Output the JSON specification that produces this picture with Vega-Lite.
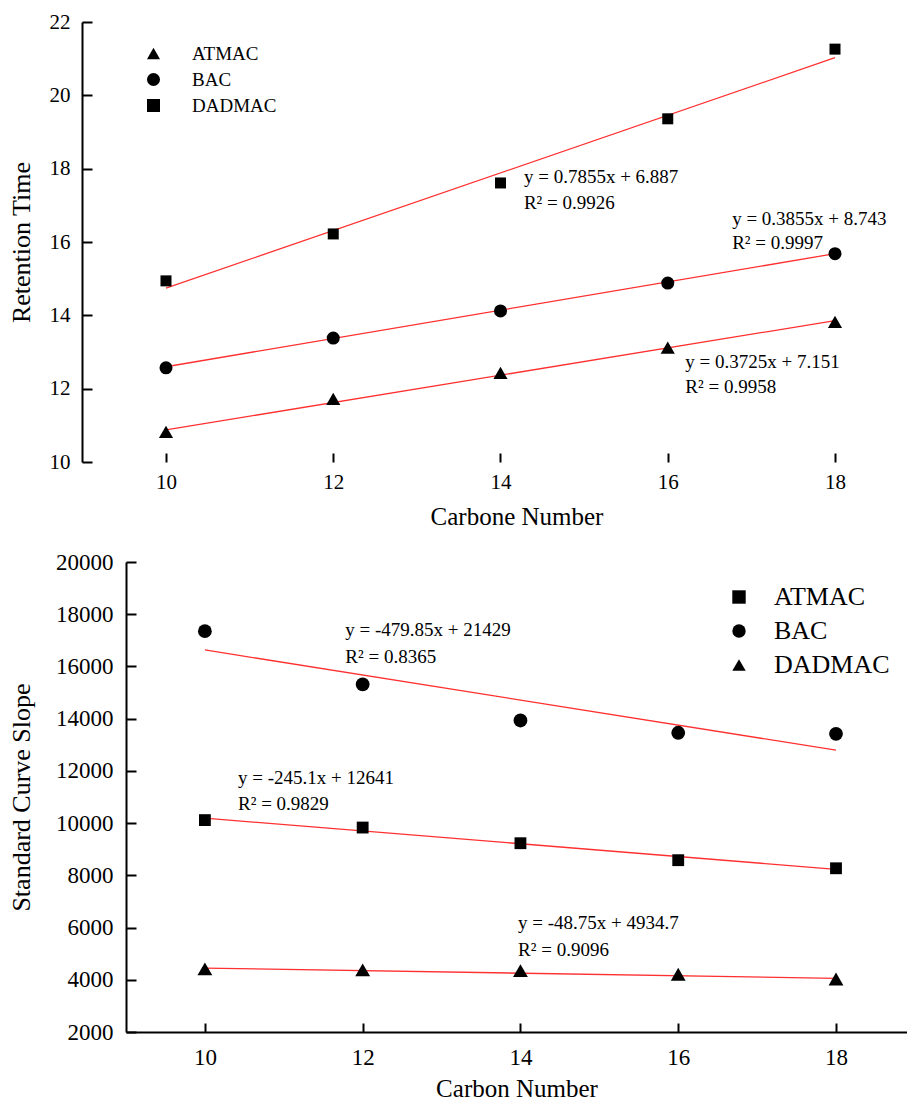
{
  "$schema": "https://vega.github.io/schema/vega-lite/v6.json",
  "padding": {"left": 8, "top": 11, "right": 0, "bottom": 0},
  "config": {
    "font": "Liberation Serif",
    "view": {"stroke": null},
    "axis": {
      "grid": false,
      "domainColor": "black",
      "domainWidth": 2,
      "tickColor": "black",
      "tickWidth": 2,
      "labelColor": "black",
      "titleFontWeight": "normal",
      "titleColor": "black"
    }
  },
  "datasets": {
    "pts": [
      {"panel": "top", "series": "ATMAC", "carbon": 10, "value": 10.82},
      {"panel": "top", "series": "ATMAC", "carbon": 12, "value": 11.72},
      {"panel": "top", "series": "ATMAC", "carbon": 14, "value": 12.43},
      {"panel": "top", "series": "ATMAC", "carbon": 16, "value": 13.12},
      {"panel": "top", "series": "ATMAC", "carbon": 18, "value": 13.82},
      {"panel": "top", "series": "BAC", "carbon": 10, "value": 12.57},
      {"panel": "top", "series": "BAC", "carbon": 12, "value": 13.38},
      {"panel": "top", "series": "BAC", "carbon": 14, "value": 14.12},
      {"panel": "top", "series": "BAC", "carbon": 16, "value": 14.88},
      {"panel": "top", "series": "BAC", "carbon": 18, "value": 15.68},
      {"panel": "top", "series": "DADMAC", "carbon": 10, "value": 14.94},
      {"panel": "top", "series": "DADMAC", "carbon": 12, "value": 16.22},
      {"panel": "top", "series": "DADMAC", "carbon": 14, "value": 17.61},
      {"panel": "top", "series": "DADMAC", "carbon": 16, "value": 19.36},
      {"panel": "top", "series": "DADMAC", "carbon": 18, "value": 21.26},
      {"panel": "bottom", "series": "ATMAC", "carbon": 10, "value": 10115},
      {"panel": "bottom", "series": "ATMAC", "carbon": 12, "value": 9830},
      {"panel": "bottom", "series": "ATMAC", "carbon": 14, "value": 9230},
      {"panel": "bottom", "series": "ATMAC", "carbon": 16, "value": 8580},
      {"panel": "bottom", "series": "ATMAC", "carbon": 18, "value": 8270},
      {"panel": "bottom", "series": "BAC", "carbon": 10, "value": 17350},
      {"panel": "bottom", "series": "BAC", "carbon": 12, "value": 15310},
      {"panel": "bottom", "series": "BAC", "carbon": 14, "value": 13930},
      {"panel": "bottom", "series": "BAC", "carbon": 16, "value": 13460},
      {"panel": "bottom", "series": "BAC", "carbon": 18, "value": 13420},
      {"panel": "bottom", "series": "DADMAC", "carbon": 10, "value": 4420},
      {"panel": "bottom", "series": "DADMAC", "carbon": 12, "value": 4380},
      {"panel": "bottom", "series": "DADMAC", "carbon": 14, "value": 4350},
      {"panel": "bottom", "series": "DADMAC", "carbon": 16, "value": 4210},
      {"panel": "bottom", "series": "DADMAC", "carbon": 18, "value": 4030}
    ],
    "fits": [
      {"panel": "top", "series": "ATMAC", "carbon": 10, "value": 10.876},
      {"panel": "top", "series": "ATMAC", "carbon": 18, "value": 13.856},
      {"panel": "top", "series": "BAC", "carbon": 10, "value": 12.598},
      {"panel": "top", "series": "BAC", "carbon": 18, "value": 15.682},
      {"panel": "top", "series": "DADMAC", "carbon": 10, "value": 14.742},
      {"panel": "top", "series": "DADMAC", "carbon": 18, "value": 21.026},
      {"panel": "bottom", "series": "ATMAC", "carbon": 10, "value": 10190},
      {"panel": "bottom", "series": "ATMAC", "carbon": 18, "value": 8229.2},
      {"panel": "bottom", "series": "BAC", "carbon": 10, "value": 16630.5},
      {"panel": "bottom", "series": "BAC", "carbon": 18, "value": 12791.7},
      {"panel": "bottom", "series": "DADMAC", "carbon": 10, "value": 4447.2},
      {"panel": "bottom", "series": "DADMAC", "carbon": 18, "value": 4057.2}
    ],
    "eqs": [
      {"panel": "top", "carbon": 14.28, "value": 17.78, "label": "y = 0.7855x + 6.887"},
      {"panel": "top", "carbon": 14.28, "value": 17.07, "label": "R² = 0.9926"},
      {"panel": "top", "carbon": 16.77, "value": 16.64, "label": "y = 0.3855x + 8.743"},
      {"panel": "top", "carbon": 16.77, "value": 15.96, "label": "R² = 0.9997"},
      {"panel": "top", "carbon": 16.21, "value": 12.72, "label": "y = 0.3725x + 7.151"},
      {"panel": "top", "carbon": 16.21, "value": 12.04, "label": "R² = 0.9958"},
      {"panel": "bottom", "carbon": 11.78, "value": 17385, "label": "y = -479.85x + 21429"},
      {"panel": "bottom", "carbon": 11.78, "value": 16346, "label": "R² = 0.8365"},
      {"panel": "bottom", "carbon": 10.42, "value": 11731, "label": "y = -245.1x + 12641"},
      {"panel": "bottom", "carbon": 10.42, "value": 10731, "label": "R² = 0.9829"},
      {"panel": "bottom", "carbon": 13.97, "value": 6192, "label": "y = -48.75x + 4934.7"},
      {"panel": "bottom", "carbon": 13.97, "value": 5154, "label": "R² = 0.9096"}
    ]
  },
  "vconcat": [
    {
      "width": 781,
      "height": 440,
      "layer": [
        {
          "data": {"name": "fits"},
          "transform": [{"filter": "datum.panel == 'top'"}],
          "mark": {"type": "line", "color": "#ff3030", "strokeWidth": 1.3},
          "encoding": {
            "x": {"field": "carbon", "type": "quantitative",
                  "scale": {"domain": [9.5217, 18.861], "nice": false, "zero": false},
                  "axis": {"title": "Carbone Number", "values": [10, 12, 14, 16, 18], "format": ".0f", "domain": false,
                           "labelFontSize": 21, "titleFontSize": 25, "tickSize": -9, "labelPadding": 18, "titlePadding": 12}},
            "y": {"field": "value", "type": "quantitative",
                  "scale": {"domain": [10, 22], "nice": false, "zero": false},
                  "axis": {"title": "Retention Time", "values": [10, 11, 12, 13, 14, 15, 16, 17, 18, 19, 20, 21, 22], "format": ".0f",
                           "labelExpr": "datum.value % 2 == 0 ? datum.label : ''",
                           "tickDash": {"condition": {"test": "datum.value % 2 == 1", "value": [6, 30]}, "value": [10, 0]},
                           "offset": 44,
                           "labelFontSize": 21, "titleFontSize": 26, "tickSize": -10, "labelPadding": 22, "titlePadding": 15}},
            "detail": {"field": "series"}
          }
        },
        {
          "mark": {"type": "rule", "color": "black", "strokeWidth": 2},
          "encoding": {"x": {"datum": 9}, "x2": {"datum": 18.861}, "y": {"datum": 22}}
        },
        {
          "mark": {"type": "rule", "color": "black", "strokeWidth": 2},
          "encoding": {"x": {"datum": 9}, "x2": {"datum": 18.861}, "y": {"datum": 10}}
        },
        {
          "data": {"name": "pts"},
          "transform": [{"filter": "datum.panel == 'top' && datum.series == 'ATMAC'"}],
          "mark": {"type": "point", "filled": true, "color": "black", "opacity": 1, "size": 200},
          "encoding": {
            "x": {"field": "carbon", "type": "quantitative"},
            "y": {"field": "value", "type": "quantitative"},
            "shape": {"field": "series", "type": "nominal",
                      "scale": {"domain": ["ATMAC", "BAC", "DADMAC"], "range": ["triangle-up", "circle", "square"]},
                      "legend": {"title": null, "orient": "none", "legendX": 18, "legendY": 22, "labelFontSize": 19, "symbolSize": 170, "labelOffset": 29, "rowPadding": 5, "symbolFillColor": "black", "symbolStrokeColor": "black"}}
          }
        },
        {
          "data": {"name": "pts"},
          "transform": [{"filter": "datum.panel == 'top' && datum.series == 'BAC'"}],
          "mark": {"type": "point", "filled": true, "color": "black", "opacity": 1, "size": 170},
          "encoding": {
            "x": {"field": "carbon", "type": "quantitative"},
            "y": {"field": "value", "type": "quantitative"},
            "shape": {"field": "series", "type": "nominal",
                      "scale": {"domain": ["ATMAC", "BAC", "DADMAC"], "range": ["triangle-up", "circle", "square"]}}
          }
        },
        {
          "data": {"name": "pts"},
          "transform": [{"filter": "datum.panel == 'top' && datum.series == 'DADMAC'"}],
          "mark": {"type": "point", "filled": true, "color": "black", "opacity": 1, "size": 121},
          "encoding": {
            "x": {"field": "carbon", "type": "quantitative"},
            "y": {"field": "value", "type": "quantitative"},
            "shape": {"field": "series", "type": "nominal",
                      "scale": {"domain": ["ATMAC", "BAC", "DADMAC"], "range": ["triangle-up", "circle", "square"]}}
          }
        },
        {
          "data": {"name": "eqs"},
          "transform": [{"filter": "datum.panel == 'top'"}],
          "mark": {"type": "text", "align": "left", "baseline": "middle", "fontSize": 19, "color": "black"},
          "encoding": {
            "x": {"field": "carbon", "type": "quantitative"},
            "y": {"field": "value", "type": "quantitative"},
            "text": {"field": "label"}
          }
        }
      ]
    },
    {
      "width": 781,
      "height": 470,
      "layer": [
        {
          "data": {"name": "fits"},
          "transform": [{"filter": "datum.panel == 'bottom'"}],
          "mark": {"type": "line", "color": "#ff3030", "strokeWidth": 1.3},
          "encoding": {
            "x": {"field": "carbon", "type": "quantitative",
                  "scale": {"domain": [9, 18.9], "nice": false, "zero": false},
                  "axis": {"title": "Carbon Number", "values": [10, 12, 14, 16, 18], "format": ".0f",
                           "labelFontSize": 23, "titleFontSize": 25, "tickSize": -9, "labelPadding": 23, "titlePadding": 7}},
            "y": {"field": "value", "type": "quantitative",
                  "scale": {"domain": [2000, 20000], "nice": false, "zero": false},
                  "axis": {"title": "Standard Curve Slope", "values": [2000, 4000, 6000, 8000, 10000, 12000, 14000, 16000, 18000, 20000],
                           "format": ".0f", "labelFontSize": 23, "titleFontSize": 26, "tickSize": -10, "labelPadding": 23, "titlePadding": 21}},
            "detail": {"field": "series"}
          }
        },
        {
          "mark": {"type": "rule", "color": "black", "strokeWidth": 2},
          "encoding": {"y": {"datum": 20000}}
        },
        {
          "data": {"name": "pts"},
          "transform": [{"filter": "datum.panel == 'bottom' && datum.series == 'ATMAC'"}],
          "mark": {"type": "point", "filled": true, "color": "black", "opacity": 1, "size": 140},
          "encoding": {
            "x": {"field": "carbon", "type": "quantitative"},
            "y": {"field": "value", "type": "quantitative"},
            "shape": {"field": "series", "type": "nominal",
                      "scale": {"domain": ["ATMAC", "BAC", "DADMAC"], "range": ["square", "circle", "triangle-up"]},
                      "legend": {"title": null, "orient": "none", "legendX": 600, "legendY": 22, "labelFontSize": 26, "symbolSize": 180, "labelOffset": 22, "rowPadding": 8, "symbolFillColor": "black", "symbolStrokeColor": "black"}}
          }
        },
        {
          "data": {"name": "pts"},
          "transform": [{"filter": "datum.panel == 'bottom' && datum.series == 'BAC'"}],
          "mark": {"type": "point", "filled": true, "color": "black", "opacity": 1, "size": 190},
          "encoding": {
            "x": {"field": "carbon", "type": "quantitative"},
            "y": {"field": "value", "type": "quantitative"},
            "shape": {"field": "series", "type": "nominal",
                      "scale": {"domain": ["ATMAC", "BAC", "DADMAC"], "range": ["square", "circle", "triangle-up"]}}
          }
        },
        {
          "data": {"name": "pts"},
          "transform": [{"filter": "datum.panel == 'bottom' && datum.series == 'DADMAC'"}],
          "mark": {"type": "point", "filled": true, "color": "black", "opacity": 1, "size": 220},
          "encoding": {
            "x": {"field": "carbon", "type": "quantitative"},
            "y": {"field": "value", "type": "quantitative"},
            "shape": {"field": "series", "type": "nominal",
                      "scale": {"domain": ["ATMAC", "BAC", "DADMAC"], "range": ["square", "circle", "triangle-up"]}}
          }
        },
        {
          "data": {"name": "eqs"},
          "transform": [{"filter": "datum.panel == 'bottom'"}],
          "mark": {"type": "text", "align": "left", "baseline": "middle", "fontSize": 19, "color": "black"},
          "encoding": {
            "x": {"field": "carbon", "type": "quantitative"},
            "y": {"field": "value", "type": "quantitative"},
            "text": {"field": "label"}
          }
        }
      ]
    }
  ],
  "spacing": 22,
  "resolve": {
    "scale": {"shape": "independent"},
    "legend": {"shape": "independent"}
  }
}
